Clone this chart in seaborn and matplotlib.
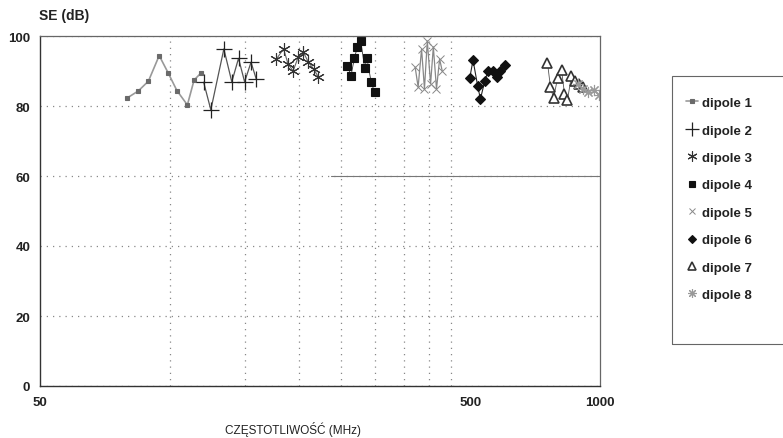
import numpy as np
import pandas as pd
import matplotlib
matplotlib.use("Agg")
import matplotlib.pyplot as plt
import seaborn as sns
from matplotlib.lines import Line2D
from matplotlib.patches import Rectangle
from matplotlib.ticker import NullFormatter

# ---- data (frequency in MHz, SE in dB) ----
f1 = [79.5, 84.6, 89.3, 94.6, 99.4, 104, 110, 114, 118]
se1 = [82.2, 84.3, 87.1, 94.4, 89.3, 84.4, 80.3, 87.4, 89.3]

f2 = [120, 124.7, 133.7, 139.5, 144.6, 149.4, 154.6, 159]
se2 = [86.8, 78.9, 96.3, 86.9, 93.6, 86.9, 92.5, 87.7]

f3 = [177, 184, 188.5, 193.7, 199, 204.5, 210, 216, 221.7]
se3 = [93.4, 96.3, 92.0, 90.0, 94.0, 95.4, 92.6, 90.6, 88.3]

f4 = [259, 264, 268.7, 273, 278, 284, 287.5, 294, 299.5]
se4 = [91.5, 88.7, 93.6, 96.8, 98.7, 90.8, 93.6, 86.8, 83.9]

f5 = [372, 378, 385, 391, 397, 404, 410, 417, 424, 430]
se5 = [91.1, 85.4, 96.3, 84.9, 98.6, 86.3, 96.9, 84.9, 93.4, 90.0]

f6 = [498, 507, 520, 527.5, 540, 550, 565, 577, 587, 600]
se6 = [87.9, 93.1, 85.6, 82.0, 87.2, 90.1, 90.1, 88.2, 90.1, 91.7]

f7 = [755, 767, 780, 797, 814, 827, 840, 858, 877, 896, 915]
se7 = [92.4, 85.5, 82.2, 88.0, 90.3, 83.5, 81.6, 88.5, 87.2, 86.3, 85.4]

f8 = [891, 915, 940, 966, 993]
se8 = [86.3, 85.0, 84.0, 84.6, 83.2]

labels = ["dipole 1", "dipole 2", "dipole 3", "dipole 4",
          "dipole 5", "dipole 6", "dipole 7", "dipole 8"]

sns.set_style("white")
plt.rcParams["font.family"] = ["Liberation Sans", "DejaVu Sans"]

fig = plt.figure(figsize=(7.83, 4.39), dpi=100)
ax = fig.add_axes([40 / 783, 1 - 387 / 439, 560 / 783, 350 / 439])

# style per dipole: marker, size, line colour, marker face, marker edge, line width
styles = [
    dict(marker="s", ms=3.2, color="#999", mfc="#6a6a6a", mec="#6a6a6a", lw=1.2),
    dict(marker="+", ms=12, color="#555", mfc="#222", mec="#222", lw=0.9, mew=0.9),
    dict(marker=(6, 2, 0), ms=9, color="#666", mfc="#333", mec="#333", lw=0.8, mew=0.8),
    dict(marker="s", ms=6, color="#333", mfc="#111", mec="#111", lw=0.6),
    dict(marker="x", ms=6, color="#888", mfc="#888", mec="#888", lw=0.9, mew=0.7),
    dict(marker="D", ms=5.5, color="#222", mfc="#111", mec="#111", lw=0.8),
    dict(marker="^", ms=7, color="#555", mfc="white", mec="#333", lw=0.6, mew=1.2),
    dict(marker=(8, 2, 0), ms=8, color="#aaa", mfc="#999", mec="#999", lw=0.8, mew=0.8),
]

series = [(f1, se1), (f2, se2), (f3, se3), (f4, se4),
          (f5, se5), (f6, se6), (f7, se7), (f8, se8)]

for (f, se), lab, st in zip(series, labels, styles):
    df = pd.DataFrame({"f": f, "se": se})
    sns.lineplot(data=df, x="f", y="se", ax=ax, estimator=None, sort=False,
                 marker=st["marker"], markersize=st["ms"], color=st["color"],
                 markerfacecolor=st["mfc"], markeredgecolor=st["mec"],
                 markeredgewidth=st.get("mew", 0.8), linewidth=st["lw"], legend=False)

ax.set_xscale("log")
ax.set_xlim(50, 1000)
ax.set_ylim(0, 100)
ax.set_xticks([50, 500, 1000])
ax.set_xticklabels(["50", "500", "1000"])
ax.set_xticks([100, 150, 200, 250, 300, 350, 400, 450, 500], minor=True)
ax.xaxis.set_minor_formatter(NullFormatter())
ax.set_yticks([0, 20, 40, 60, 80, 100])
ax.tick_params(axis="both", which="major", labelsize=9.5, length=3, width=0.8,
               color="#333", pad=4)
ax.tick_params(axis="x", which="minor", length=0)
for t in ax.get_xticklabels() + ax.get_yticklabels():
    t.set_fontweight("bold")
    t.set_color("#222")
ax.set_xlabel("")
ax.set_ylabel("")

ax.grid(True, axis="y", which="major", linestyle=(0, (1, 4)), color="#888", lw=0.9)
ax.grid(True, axis="x", which="minor", linestyle=(0, (1, 4)), color="#888", lw=0.9)
ax.axhline(60, xmin=0.52, xmax=1, color="#777", lw=0.8)

for side in ["left", "bottom"]:
    ax.spines[side].set_color("#333")
    ax.spines[side].set_linewidth(1.0)
for side in ["top", "right"]:
    ax.spines[side].set_color("#666")
    ax.spines[side].set_linewidth(0.9)

fig.text(39 / 783, 1 - 16 / 439, "SE (dB)", fontsize=10, fontweight="bold",
         color="#222", ha="left", va="center")
fig.text(293 / 783, 1 - 430 / 439, "CZĘSTOTLIWOŚĆ (MHz)", fontsize=8.5,
         color="#222", ha="center", va="center")

# legend with its own frame (the box runs well below the last entry)
handles = []
for i, st in enumerate(styles):
    handles.append(Line2D([], [], marker=st["marker"], markersize=st["ms"] * 0.8,
                          color=st["color"], markerfacecolor=st["mfc"],
                          markeredgecolor=st["mec"], markeredgewidth=st.get("mew", 0.8),
                          linestyle="-" if i == 0 else "none", linewidth=1.2))
leg = fig.legend(handles, labels, loc="upper left",
                 bbox_to_anchor=(674 / 783, 1 - 86 / 439), frameon=False,
                 handlelength=0.9, handletextpad=0.35, labelspacing=1.15,
                 prop={"size": 9.5, "weight": "bold"})
for t in leg.get_texts():
    t.set_color("#222")
fig.patches.append(Rectangle((672 / 783, 1 - 345 / 439), 120 / 783, 268 / 439,
                             transform=fig.transFigure, fill=False,
                             edgecolor="#666", linewidth=0.8))

fig.savefig("out.png", dpi=100)
